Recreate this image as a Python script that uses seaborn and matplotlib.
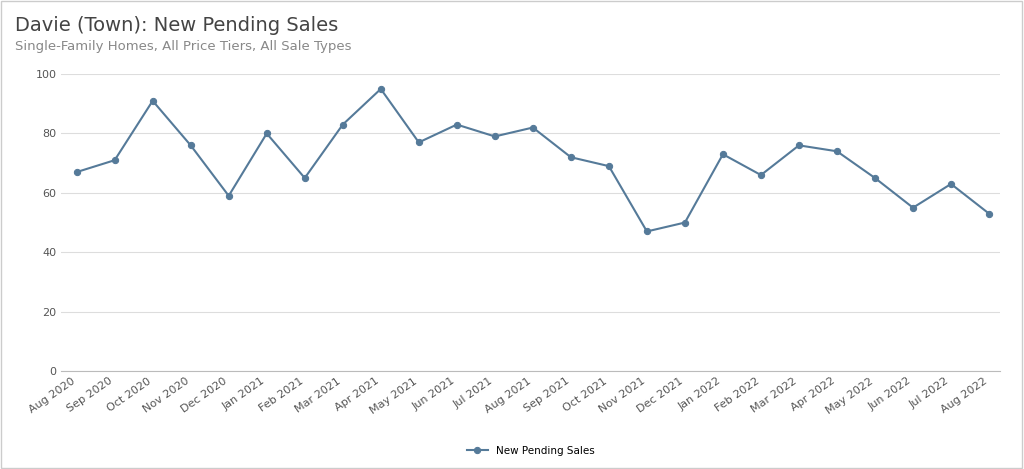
import matplotlib
matplotlib.use("Agg")
import matplotlib.pyplot as plt
import seaborn as sns
import pandas as pd

months = ["Aug 2020","Sep 2020","Oct 2020","Nov 2020","Dec 2020","Jan 2021","Feb 2021","Mar 2021",
          "Apr 2021","May 2021","Jun 2021","Jul 2021","Aug 2021","Sep 2021","Oct 2021","Nov 2021",
          "Dec 2021","Jan 2022","Feb 2022","Mar 2022","Apr 2022","May 2022","Jun 2022","Jul 2022","Aug 2022"]
values = [67,71,91,76,59,80,65,83,95,77,83,79,82,72,69,47,50,73,66,76,74,65,55,63,53]

df = pd.DataFrame({"x": range(len(months)), "y": values})
color = "#557a99"
fig = plt.figure(figsize=(10.24, 4.69), dpi=100)
ax = fig.add_axes([0.06, 0.209, 0.917, 0.633])
sns.lineplot(data=df, x="x", y="y", ax=ax, color=color, marker="o", markersize=4.5,
             markeredgecolor=color, linewidth=1.5, label="New Pending Sales")
ax.set_xlim(-0.4, len(months) - 1 + 0.3)
ax.set_ylim(0, 100)
ax.set_yticks([0, 20, 40, 60, 80, 100])
ax.set_xticks(range(len(months)))
ax.set_xticklabels(months, rotation=35, ha="right", fontsize=8, color="#555555")
ax.tick_params(axis="y", labelsize=8, labelcolor="#555555", length=0)
ax.tick_params(axis="x", length=0)
ax.grid(axis="y", color="#dddddd", linewidth=0.8)
ax.set_axisbelow(True)
for s in ["top", "right", "left"]:
    ax.spines[s].set_visible(False)
ax.spines["bottom"].set_color("#bbbbbb")
ax.set_xlabel(""); ax.set_ylabel("")
ax.legend(loc="upper center", bbox_to_anchor=(0.5, -0.22), frameon=False, fontsize=7.5)
fig.text(0.015, 0.945, "Davie (Town): New Pending Sales", fontsize=14, color="#444444", va="center")
fig.text(0.015, 0.9, "Single-Family Homes, All Price Tiers, All Sale Types", fontsize=9.5, color="#888888", va="center")
fig.patches.append(plt.Rectangle((0.001, 0.002), 0.997, 0.995, transform=fig.transFigure,
                                 fill=False, edgecolor="#cccccc", linewidth=1))
fig.savefig("out.png", dpi=100)
